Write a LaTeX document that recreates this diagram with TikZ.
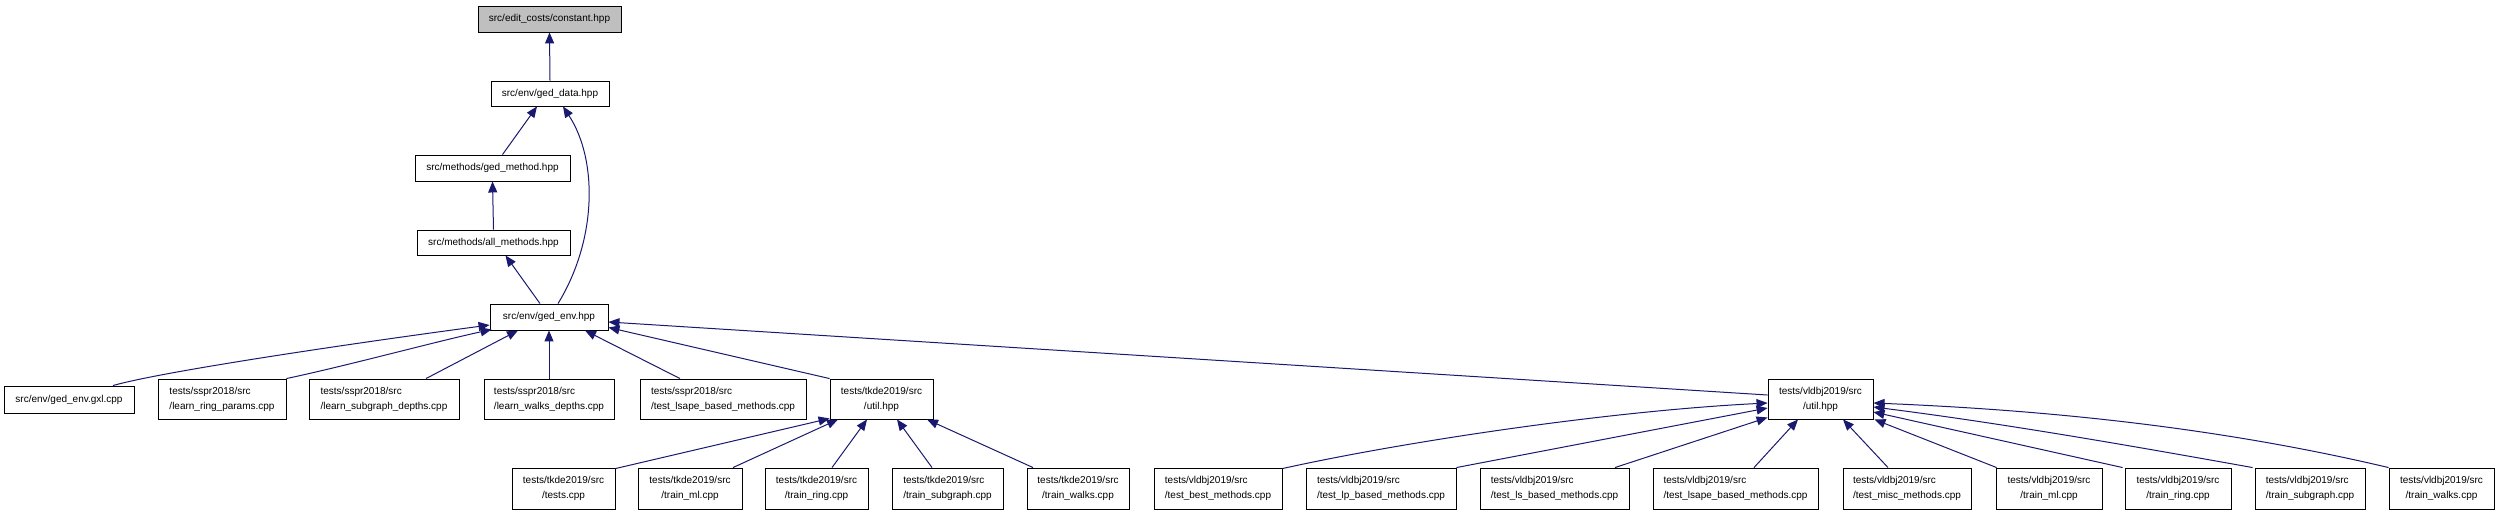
\documentclass[tikz,border=0pt]{standalone}
\usepackage{fontspec}
\setmainfont{Liberation Sans}
\usetikzlibrary{arrows.meta,calc}
\definecolor{edgeblue}{HTML}{191970}
\definecolor{constgray}{HTML}{BFBFBF}
\begin{document}
\begin{tikzpicture}[x=1pt,y=-1pt,
  box/.style={draw=black, line width=0.9pt, fill=white, inner sep=0pt,
    font=\fontsize{10}{15}\selectfont, text=black},
  lbox/.style={box, align=left, minimum height=40pt},
  cbox/.style={box, align=center, minimum height=40pt},
  dep/.style={draw=edgeblue, line width=1pt, -{Triangle[length=11pt,width=9pt]}}]
\useasboundingbox (0,0) rectangle (2500,515);
\fill[white] (0,0) rectangle (2500,515);

% top chain
\node[box,fill=constgray,minimum width=143pt,minimum height=26pt] (constant) at (549.5,19) {src/edit\_costs/constant.hpp};
\node[box,minimum width=118pt,minimum height=25pt] (geddata) at (550,93.5) {src/env/ged\_data.hpp};
\node[box,minimum width=155pt,minimum height=26pt] (gedmethod) at (492.5,168) {src/methods/ged\_method.hpp};
\node[box,minimum width=153pt,minimum height=25pt] (allmethods) at (493.5,242.5) {src/methods/all\_methods.hpp};
\node[box,minimum width=118pt,minimum height=26pt] (gedenv) at (549,317) {src/env/ged\_env.hpp};

% third row
\node[box,minimum width=130pt,minimum height=27pt] (gxl) at (69,399.5) {src/env/ged\_env.gxl.cpp};
\node[lbox,minimum width=128pt] (ssprring) at (222,399) {tests/sspr2018/src\\/learn\_ring\_params.cpp};
\node[lbox,minimum width=150pt] (ssprsub) at (384,399) {tests/sspr2018/src\\/learn\_subgraph\_depths.cpp};
\node[lbox,minimum width=130pt] (ssprwalks) at (549,399) {tests/sspr2018/src\\/learn\_walks\_depths.cpp};
\node[lbox,minimum width=166pt] (ssprlsape) at (723,399) {tests/sspr2018/src\\/test\_lsape\_based\_methods.cpp};
\node[cbox,minimum width=103pt] (tutil) at (881.5,399) {tests/tkde2019/src\\/util.hpp};
\node[cbox,minimum width=105pt] (vutil) at (1820.5,399) {tests/vldbj2019/src\\/util.hpp};

% bottom row tkde
\node[cbox,minimum width=103pt,minimum height=41pt] (ttests) at (563.5,488.5) {tests/tkde2019/src\\/tests.cpp};
\node[cbox,minimum width=104pt,minimum height=41pt] (tml) at (690,488.5) {tests/tkde2019/src\\/train\_ml.cpp};
\node[cbox,minimum width=103pt,minimum height=41pt] (tring) at (816.5,488.5) {tests/tkde2019/src\\/train\_ring.cpp};
\node[lbox,minimum width=111pt,minimum height=41pt] (tsub) at (947.5,488.5) {tests/tkde2019/src\\/train\_subgraph.cpp};
\node[cbox,minimum width=102pt,minimum height=41pt] (twalks) at (1078,488.5) {tests/tkde2019/src\\/train\_walks.cpp};

% bottom row vldbj
\node[lbox,minimum width=128pt,minimum height=41pt] (vbest) at (1218,488.5) {tests/vldbj2019/src\\/test\_best\_methods.cpp};
\node[lbox,minimum width=150pt,minimum height=41pt] (vlp) at (1381,488.5) {tests/vldbj2019/src\\/test\_lp\_based\_methods.cpp};
\node[lbox,minimum width=149pt,minimum height=41pt] (vls) at (1554.5,488.5) {tests/vldbj2019/src\\/test\_ls\_based\_methods.cpp};
\node[lbox,minimum width=165pt,minimum height=41pt] (vlsape) at (1735.5,488.5) {tests/vldbj2019/src\\/test\_lsape\_based\_methods.cpp};
\node[lbox,minimum width=128pt,minimum height=41pt] (vmisc) at (1907,488.5) {tests/vldbj2019/src\\/test\_misc\_methods.cpp};
\node[cbox,minimum width=106pt,minimum height=41pt] (vml) at (2049,488.5) {tests/vldbj2019/src\\/train\_ml.cpp};
\node[cbox,minimum width=106pt,minimum height=41pt] (vring) at (2178,488.5) {tests/vldbj2019/src\\/train\_ring.cpp};
\node[lbox,minimum width=110pt,minimum height=41pt] (vsub) at (2310,488.5) {tests/vldbj2019/src\\/train\_subgraph.cpp};
\node[cbox,minimum width=105pt,minimum height=41pt] (vwalks) at (2441.5,488.5) {tests/vldbj2019/src\\/train\_walks.cpp};

% edges: top chain
\draw[dep] (geddata.north) -- (constant.south);
\draw[dep] ($(gedmethod.north)+(10,0)$) -- ($(geddata.south)+(-13,0)$);
\draw[dep] ($(gedenv.north)+(9,0)$) .. controls (597,240) and (598,160) .. ($(geddata.south)+(13,0)$);
\draw[dep] (allmethods.north) -- (gedmethod.south);
\draw[dep] ($(gedenv.north)+(-9,0)$) -- ($(allmethods.south)+(12,0)$);

% third row to ged_env
\draw[dep] ($(gxl.north)+(44,0)$) .. controls (160,372) and (340,345) .. ($(gedenv.west)+(0,8)$);
\draw[dep] (ssprring.north east) .. controls (350,365) and (430,343) .. ($(gedenv.south west)+(2,-1)$);
\draw[dep] ($(ssprsub.north)+(42,0)$) -- ($(gedenv.south)+(-31,0)$);
\draw[dep] (ssprwalks.north) -- (gedenv.south);
\draw[dep] ($(ssprlsape.north)+(-43,0)$) -- ($(gedenv.south)+(36,0)$);
\draw[dep] (tutil.north west) -- ($(gedenv.south east)+(0,-3)$);
\draw[dep] ($(vutil.west)+(0,-4)$) -- ($(gedenv.east)+(0,5)$);

% tkde bottom to tkde util
\draw[dep] ($(ttests.north east)+(0,1)$) -- ($(tutil.south west)+(0,-1)$);
\draw[dep] ($(tml.north)+(43,0)$) -- ($(tutil.south)+(-43.5,0)$);
\draw[dep] ($(tring.north)+(15.5,0)$) -- ($(tutil.south)+(-14.5,0)$);
\draw[dep] ($(tsub.north)+(-15.5,0)$) -- ($(tutil.south)+(15.5,0)$);
\draw[dep] ($(twalks.north)+(-45,0)$) -- ($(tutil.south)+(45.5,0)$);

% vldbj bottom to vldbj util
\draw[dep] ($(vbest.north east)+(0,1)$) .. controls (1402,442) and (1608,411) .. ($(vutil.west)+(0,4)$);
\draw[dep] (vlp.north east) -- ($(vutil.west)+(0,9)$);
\draw[dep] ($(vls.north)+(60.5,0)$) -- ($(vutil.south west)+(0,-2)$);
\draw[dep] ($(vlsape.north)+(18.5,0)$) -- ($(vutil.south)+(-22.5,0)$);
\draw[dep] ($(vmisc.north)+(-19,0)$) -- ($(vutil.south)+(22.5,0)$);
\draw[dep] ($(vml.north west)+(1,0)$) -- ($(vutil.south east)+(1,0)$);
\draw[dep] ($(vring.north west)+(-2,0)$) -- ($(vutil.east)+(0,13)$);
\draw[dep] ($(vsub.north west)+(-2,0)$) .. controls (2127,445) and (2000,423) .. ($(vutil.east)+(0,8)$);
\draw[dep] (vwalks.north west) .. controls (2217,427) and (2045,410) .. ($(vutil.east)+(0,4)$);
\end{tikzpicture}
\end{document}
